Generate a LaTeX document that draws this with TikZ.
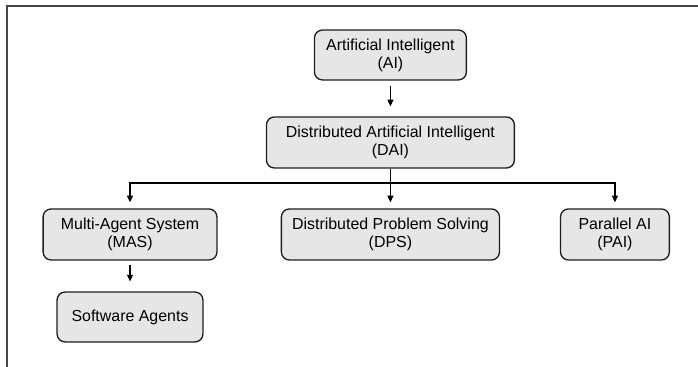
\documentclass[tikz,border=0pt]{standalone}
\usepackage{fontspec}
\setmainfont{Liberation Sans}
\usepackage{tikz}
\usetikzlibrary{arrows.meta,positioning,calc}
\usepackage{xcolor}
\definecolor{boxfill}{RGB}{230,230,230}
\definecolor{boxline}{RGB}{30,30,30}
\definecolor{framegray}{RGB}{70,70,70}

\begin{document}
\begin{tikzpicture}[
    box/.style={draw=boxline, line width=1pt, fill=boxfill, rounded corners=6pt,
        align=center, inner sep=2pt, minimum height=1.35cm,
        font=\fontsize{12}{13.5}\selectfont},
    arr/.style={-{Triangle[length=5pt, width=4.5pt]}, line width=0.9pt, black},
]
    \useasboundingbox (0,0) rectangle (18.468,9.710);
    % outer frame (top and left only)
    \draw[framegray, line width=0.8pt] (18.468,9.551) -- (0.185,9.551) -- (0.185,0);

    \node[box, minimum width=4.02cm, minimum height=1.32cm] (ai) at (10.33, 8.255) {Artificial Intelligent\\(AI)};
    \node[box, minimum width=6.56cm] (dai) at (10.33, 5.940) {Distributed Artificial Intelligent\\(DAI)};
    \node[box, minimum width=4.60cm] (mas) at (3.44, 3.506) {Multi-Agent System\\(MAS)};
    \node[box, minimum width=5.77cm] (dps) at (10.33, 3.506) {Distributed Problem Solving\\(DPS)};
    \node[box, minimum width=2.88cm] (pai) at (16.27, 3.506) {Parallel AI\\(PAI)};
    \node[box, minimum width=3.86cm, minimum height=1.32cm] (sa) at (3.44, 1.323) {Software Agents};

    \coordinate (bus) at (0, 4.868);

    \draw[arr, shorten <=3.75pt, shorten >=7.5pt] (ai.south) -- (dai.north);
    \draw[arr, shorten >=4.5pt] (dai.south) -- (dps.north);
    \foreach \t in {mas, pai} {
        \draw[arr, shorten >=4.5pt] (dai.south |- bus) -| (\t.north);
    }
    \draw[arr, shorten <=3pt, shorten >=7.5pt] (mas.south) -- (sa.north);
\end{tikzpicture}
\end{document}
